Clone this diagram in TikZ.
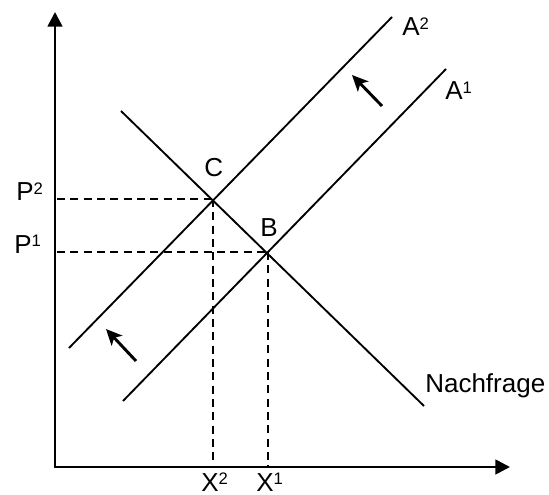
\documentclass[tikz,border=0pt]{standalone}
\usepackage{fontspec}
\setmainfont{Liberation Sans}
\usetikzlibrary{arrows.meta}
\newcommand\mysup[1]{\raisebox{5.2pt}{\fontsize{12.5}{14}\selectfont #1}}
\begin{document}
\begin{tikzpicture}[x=0.75pt,y=-0.75pt,
  axis/.style={line width=2pt,-{Triangle[length=11pt,width=11pt]}},
  curve/.style={line width=1.4pt},
  guide/.style={line width=1.4pt,dash pattern=on 6pt off 4pt},
  shiftarrow/.style={line width=2.2pt,-{Stealth[length=12pt,width=11pt,inset=3pt]}},
  lab/.style={anchor=base west,inner sep=0pt,font=\fontsize{19.5}{22}\selectfont}]
\useasboundingbox (0,0) rectangle (549,495);
% axes
\coordinate (O) at (55,467);
\coordinate (Ytop) at (55,12);
\coordinate (Xend) at (510,467);
\draw[axis] (O) -- (Ytop);
\draw[axis] ([xshift=-1pt]O) -- (Xend);
% equilibrium points
\coordinate (C) at (213,199);
\coordinate (B) at (268,252);
% curve ends
\coordinate (A2lo) at (69,348);
\coordinate (A2hi) at (392,17);
\coordinate (A1lo) at (123,401);
\coordinate (A1hi) at (446,69);
\coordinate (Nhi) at (121,111);
\coordinate (Nlo) at (424,406);
\draw[curve] (A2lo) -- (A2hi);
\draw[curve] (A1lo) -- (A1hi);
\draw[curve] (Nhi) -- (Nlo);
% guides
\coordinate (PC) at (57,199);
\coordinate (PB) at (57,252);
\coordinate (XC) at (213,466);
\coordinate (XB) at (268,466);
\draw[guide] (PC) -- (C);
\draw[guide] (PB) -- (B);
\draw[guide] (C) -- (XC);
\draw[guide] (B) -- (XB);
% shift arrows
\coordinate (s1t) at (382,106);
\coordinate (s1h) at (352,75);
\coordinate (s2t) at (136,361);
\coordinate (s2h) at (106,329);
\draw[shiftarrow] (s1t) -- (s1h);
\draw[shiftarrow] (s2t) -- (s2h);
% labels
\node[lab] (lA2) at (402,36) {A\mysup{2}};
\node[lab] (lA1) at (445,100) {A\mysup{1}};
\node[lab] (lC) at (204,177) {C};
\node[lab] (lB) at (260,236) {B};
\node[lab] (lP2) at (16,201) {P\mysup{2}};
\node[lab] (lP1) at (14,253) {P\mysup{1}};
\node[lab] (lX2) at (201,491) {X\mysup{2}};
\node[lab] (lX1) at (256,491) {X\mysup{1}};
\node[lab] (lN) at (425,392) {Nachfrage};
\end{tikzpicture}
\end{document}
